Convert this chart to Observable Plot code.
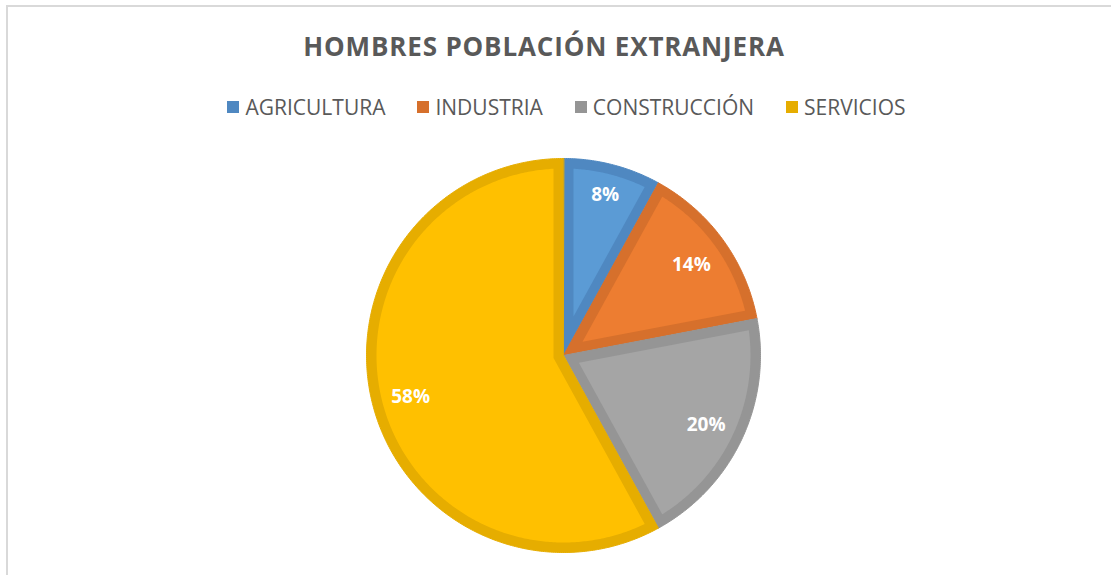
<!DOCTYPE html>
<html>
<head>
<meta charset="utf-8">
<script src="https://cdn.jsdelivr.net/npm/d3@7"></script>
<script src="https://cdn.jsdelivr.net/npm/@observablehq/plot@0.6"></script>
<style>
  html, body { margin: 0; padding: 0; background: #fff; overflow: hidden; }
  body { width: 1111px; height: 575px; position: relative; font-family: "Open Sans", "DejaVu Sans", sans-serif; }
  #frame { position: absolute; left: 6px; top: 5px; width: 1200px; height: 700px; border: 2px solid #d9d9d9; box-sizing: border-box; }
  #title { position: absolute; left: 0; width: 1088px; top: 26px; text-align: center; font-weight: 700; font-size: 26px; color: #595959; letter-spacing: 0.85px; line-height: 40px; white-space: nowrap; }
  #legend { position: absolute; left: 0; width: 1133px; top: 93px; display: flex; justify-content: center; align-items: center; font-size: 21px; color: #595959; line-height: 28px; white-space: nowrap; }
  .item { display: flex; align-items: center; margin: 0 16px; }
  .sw { width: 12px; height: 12px; margin-right: 6px; }
  #chart { position: absolute; left: 0; top: 140px; }
</style>
</head>
<body>
<div id="frame"></div>
<div id="title">HOMBRES POBLACIÓN EXTRANJERA</div>
<div id="legend"></div>
<div id="chart"></div>
<script>
const categories = ["AGRICULTURA", "INDUSTRIA", "CONSTRUCCIÓN", "SERVICIOS"];
const values = [8, 14, 20, 58];
const labels = ["8%", "14%", "20%", "58%"];
const fillColors = ["#5B9BD5", "#ED7D31", "#A5A5A5", "#FFC000"];
const borderColors = ["#4F88C1", "#D6702C", "#959595", "#E6AD00"];

const table = categories.map((c, i) => ({category: c, value: values[i], label: labels[i], fill: fillColors[i], border: borderColors[i]}));

// legend
const legend = document.getElementById("legend");
table.forEach(d => {
  const it = document.createElement("div");
  it.className = "item";
  const sw = document.createElement("div");
  sw.className = "sw";
  sw.style.background = d.border;
  const tx = document.createElement("span");
  tx.textContent = d.category;
  it.appendChild(sw); it.appendChild(tx);
  legend.appendChild(it);
});

const W = 1111, H = 435;
const cx = 563, cy = 215; // pie centre within svg (pixels)
const R = 197, B = 10;
const pol = (r, a) => [r * Math.sin(a), r * Math.cos(a)];

const arcs = d3.pie().sort(null).value(d => d.value)(table);
const outerPts = [], innerPts = [], labelPts = [];
const charW = 13.7, boxH = 18, reach = 180;
arcs.forEach(a => {
  const d = a.data, a0 = a.startAngle, a1 = a.endAngle, th = a1 - a0;
  const push = (arr, p) => arr.push({category: d.category, x: p[0], y: p[1], fill: d.fill, border: d.border});
  // outer wedge
  push(outerPts, [0, 0]);
  const n = Math.max(8, Math.ceil(th / 0.01));
  for (let k = 0; k <= n; k++) push(outerPts, pol(R, a0 + th * k / n));
  // inset wedge (inner border)
  const Ri = R - B, t = Math.sqrt(Ri * Ri - B * B), dl = Math.atan2(B, t);
  const m = (a0 + a1) / 2;
  push(innerPts, pol(B / Math.sin(th / 2), m));
  const b0 = a0 + dl, b1 = a1 - dl;
  for (let k = 0; k <= n; k++) push(innerPts, pol(Ri, b0 + (b1 - b0) * k / n));
  // label: along mid angle, farthest box corner at distance `reach`
  const u = pol(1, m);
  const c = [Math.sign(u[0]) * d.label.length * charW / 2, Math.sign(u[1]) * boxH / 2];
  const uc = u[0] * c[0] + u[1] * c[1], cc = c[0] * c[0] + c[1] * c[1];
  const r = -uc + Math.sqrt(uc * uc - cc + reach * reach);
  labelPts.push({label: d.label, x: r * u[0], y: r * u[1]});
});

const plot = Plot.plot({
  width: W, height: H,
  margin: 0,
  x: {domain: [-cx, W - cx], axis: null},
  y: {domain: [-(H - cy), cy], axis: null},
  color: {type: "identity"},
  style: {background: "transparent"},
  marks: [
    Plot.line(outerPts, {x: "x", y: "y", z: "category", fill: "border", stroke: "border", strokeWidth: 1, curve: "linear-closed"}),
    Plot.line(innerPts, {x: "x", y: "y", z: "category", fill: "fill", stroke: "none", curve: "linear-closed"}),
    Plot.text(labelPts, {x: "x", y: "y", text: "label", fill: "white", fontSize: 19, fontWeight: "bold", fontFamily: "Open Sans", dy: 2})
  ]
});
document.getElementById("chart").appendChild(plot);
</script>
</body>
</html>
